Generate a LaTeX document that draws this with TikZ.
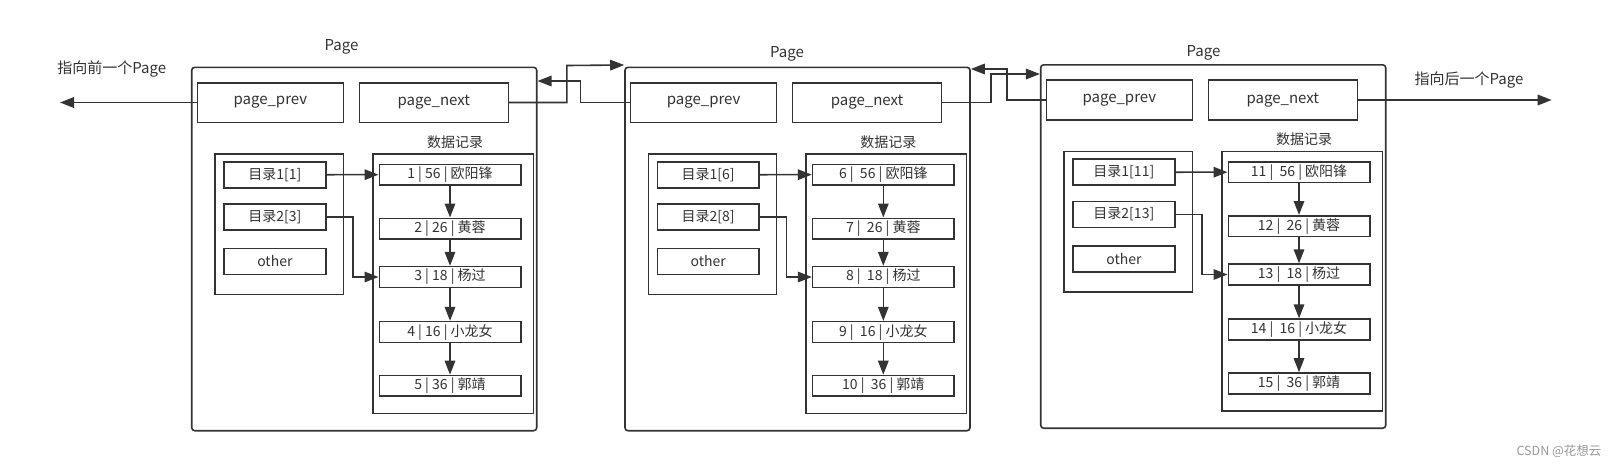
\documentclass[tikz,border=0pt]{standalone}
\usepackage{fontspec}
\setmainfont{Noto Sans CJK SC}
\usetikzlibrary{arrows.meta}
\definecolor{ink}{HTML}{333333}
\definecolor{wm}{HTML}{9A9A9A}
\tikzset{
  box/.style={draw=ink, line width=1.6pt, rectangle, inner sep=0pt, text=ink, font=\fontsize{15}{17}\selectfont},
  outerbox/.style={draw=ink, line width=1.6pt, rectangle, rounded corners=3pt, inner sep=0pt, minimum width=345pt, minimum height=363.4pt},
  grp/.style={draw=ink, line width=1.6pt, rectangle, inner sep=0pt},
  dirbox/.style={box, minimum width=101.7pt, minimum height=26pt, font=\fontsize{14}{16}\selectfont},
  recbox/.style={box, minimum width=141.4pt, minimum height=20.7pt, font=\fontsize{14}{16}\selectfont},
  lbl/.style={text=ink, inner sep=0pt, font=\fontsize{15}{17}\selectfont},
  conn/.style={draw=ink, line width=1.6pt},
  arr/.style={conn, -{Triangle[length=14pt,width=10.5pt]}},
}
\newcommand\drawpage[5]{%
\begin{scope}[shift={(#2,#3)}]
  \node[outerbox] (#1outer) at (364.2,249) {};
  \node[box, minimum width=146pt, minimum height=39.6pt] (#1prev) at (270.3,102.5) {page\_prev};
  \node[box, minimum width=149pt, minimum height=39.6pt] (#1next) at (433.8,102.5) {page\_next};
  \node[lbl, font=\fontsize{14}{16}\selectfont] (#1datalbl) at (455,141.7) {数据记录};
  \node[grp, minimum width=128.3pt, minimum height=140.3pt] (#1dir) at (279.15,224.15) {};
  \node[dirbox] (#1da) at (274.85,174.7) {目录1[\the\numexpr#4\relax]};
  \node[dirbox] (#1db) at (274.85,217) {目录2[\the\numexpr#4+2\relax]};
  \node[dirbox] (#1dc) at (274.85,261.3) {other};
  \node[grp, minimum width=160.6pt, minimum height=259.3pt] (#1rec) at (453,283.65) {};
  \node[recbox] (#1ra) at (450,174.65) {\the\numexpr#4\relax{} |#5 56 | 欧阳锋};
  \node[recbox] (#1rb) at (450,228.65) {\the\numexpr#4+1\relax{} |#5 26 | 黄蓉};
  \node[recbox] (#1rc) at (450,277) {\the\numexpr#4+2\relax{} |#5 18 | 杨过};
  \node[recbox] (#1rd) at (450,332) {\the\numexpr#4+3\relax{} |#5 16 | 小龙女};
  \node[recbox] (#1re) at (450,385.85) {\the\numexpr#4+4\relax{} |#5 36 | 郭靖};
  \draw[arr] (#1ra.south) -- (#1rb.north);
  \draw[arr] (#1rb.south) -- (#1rc.north);
  \draw[arr] (#1rc.south) -- (#1rd.north);
  \draw[arr] (#1rd.south) -- (#1re.north);
  \draw[arr] (#1da.east) -- (#1ra.west);
  \draw[arr] (#1db.east) -- ++(26.6,0) |- (#1rc.west);
\end{scope}}
\begin{document}
\begin{tikzpicture}[x=1pt,y=-1pt]
  \fill[white] (0,0) rectangle (1624,467);
  \useasboundingbox (0,0) rectangle (1624,467);
  \drawpage{pa}{0}{0}{1}{}
  \drawpage{pb}{433.3}{0}{6}{~}
  \drawpage{pc}{849}{-2.5}{11}{~}
  \node[lbl] (pagea) at (341.5,46.7) {Page};
  \node[lbl] (pageb) at (787,54.3) {Page};
  \node[lbl] (pagec) at (1203.5,53.3) {Page};
  \node[lbl] (prevtxt) at (111.7,69.3) {指向前一个Page};
  \node[lbl] (nexttxt) at (1469,80) {指向后一个Page};
  \coordinate (leftend) at (60,102.5);
  \coordinate (rightend) at (1551.7,100);
  \draw[arr] (paprev.west) -- (leftend);
  \draw[arr] (pcnext.east) -- (rightend);
  % page 1 <-> page 2
  \draw[arr] (panext.east) -| ++(57.7,-37) -- ([yshift=1.5pt]pbouter.north west);
  \draw[arr] (pbprev.west) -| ++(-49.3,-21.5) -- (paouter.east |- 0,81);
  % page 2 <-> page 3
  \draw[arr] (pbnext.east) -| ++(48.3,-28.5) -- (pcouter.west |- 0,74);
  \draw[arr] (pcprev.west) -| ++(-38.4,-31) -- (pbouter.east |- 0,69);
  \node[text=wm, inner sep=0pt, font=\fontsize{12.5}{14}\selectfont] (mark) at (1559,451.7) {CSDN @花想云};
\end{tikzpicture}
\end{document}
